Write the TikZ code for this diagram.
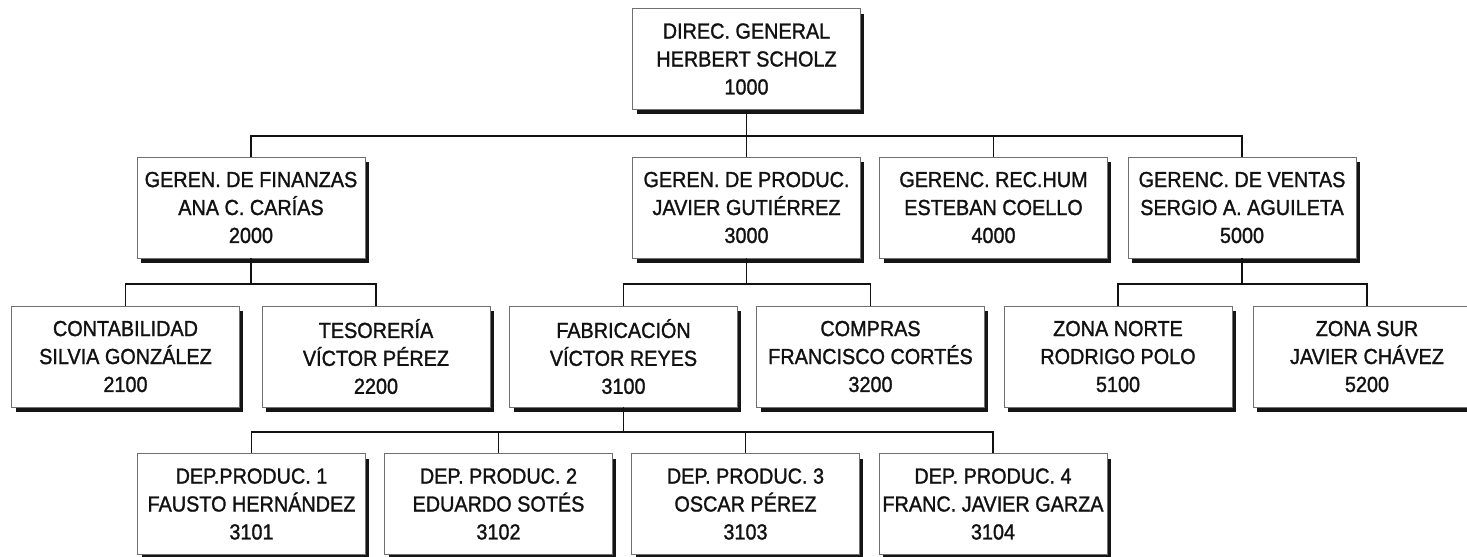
\documentclass[tikz,border=0pt]{standalone}
\usepackage{fontspec}
\setmainfont{Liberation Sans}[FakeStretch=0.91,FakeBold=1.3]
\usepackage{xcolor}
\usetikzlibrary{shadows}
\definecolor{ink}{HTML}{111111}
\definecolor{frame}{HTML}{707070}
\definecolor{shade}{HTML}{151515}

\begin{document}
\begin{tikzpicture}[
  x=0.02cm, y=-0.02cm,
  font={\fontsize{12.4pt}{15.9pt}\selectfont},
  link/.style={line width=0.8pt,draw=ink},
  unit/.style={draw=frame,fill=white,line width=0.5pt,align=center,text=ink,
               minimum width=4.56cm,minimum height=2.02cm,inner sep=2pt,
               drop shadow={shadow xshift=0.08cm,shadow yshift=-0.1cm,
                            fill=shade,opacity=1}}
]
\useasboundingbox (0,0) rectangle (1467,556);

% Direction
\node[unit] (dir) at (746.5,59) {DIREC. GENERAL\\HERBERT SCHOLZ\\1000};

% Managers
\node[unit] (fin)  at (251,207.5)   {GEREN. DE FINANZAS\\ANA C. CARÍAS\\2000};
\node[unit] (prod) at (746.5,207.5) {GEREN. DE PRODUC.\\JAVIER GUTIÉRREZ\\3000};
\node[unit] (rh)   at (993.5,207.5) {GERENC. REC.HUM\\ESTEBAN COELLO\\4000};
\node[unit] (vent) at (1242,207.5)  {GERENC. DE VENTAS\\SERGIO A. AGUILETA\\5000};

% Sections
\node[unit] (cont)  at (125.5,356.5) {CONTABILIDAD\\SILVIA GONZÁLEZ\\2100};
\node[unit] (tes)   at (376,356.5)   {TESORERÍA\\VÍCTOR PÉREZ\\2200};
\node[unit] (fab)   at (623.5,356.5) {FABRICACIÓN\\VÍCTOR REYES\\3100};
\node[unit] (comp)  at (870.5,356.5) {COMPRAS\\FRANCISCO CORTÉS\\3200};
\node[unit] (norte) at (1118,356.5)  {ZONA NORTE\\RODRIGO POLO\\5100};
\node[unit] (sur)   at (1367,356.5)  {ZONA SUR\\JAVIER CHÁVEZ\\5200};

% Production departments
\node[unit] (d1) at (251.5,504) {DEP.PRODUC. 1\\FAUSTO HERNÁNDEZ\\3101};
\node[unit] (d2) at (498.5,504) {DEP. PRODUC. 2\\EDUARDO SOTÉS\\3102};
\node[unit] (d3) at (745.5,504) {DEP. PRODUC. 3\\OSCAR PÉREZ\\3103};
\node[unit] (d4) at (993,504)   {DEP. PRODUC. 4\\FRANC. JAVIER GARZA\\3104};

% Connectors
\coordinate (bus1) at (746.5,136);
\coordinate (bus2) at (251,284);
\coordinate (bus3) at (746.5,284);
\coordinate (bus4) at (1242,284);
\coordinate (bus5) at (623.5,432);

\draw[link] (dir.south) -- (bus1);
\foreach \n in {fin,prod,rh,vent}
  \draw[link] (bus1) -| (\n.north);

\draw[link] (fin.south) -- (bus2);
\draw[link] (bus2) -| (cont.north);
\draw[link] (bus2) -| (tes.north);

\draw[link] (prod.south) -- (bus3);
\draw[link] (bus3) -| (fab.north);
\draw[link] (bus3) -| (comp.north);

\draw[link] (vent.south) -- (bus4);
\draw[link] (bus4) -| (norte.north);
\draw[link] (bus4) -| (sur.north);

\draw[link] (fab.south) -- (bus5);
\foreach \n in {d1,d2,d3,d4}
  \draw[link] (bus5) -| (\n.north);

\end{tikzpicture}
\end{document}
